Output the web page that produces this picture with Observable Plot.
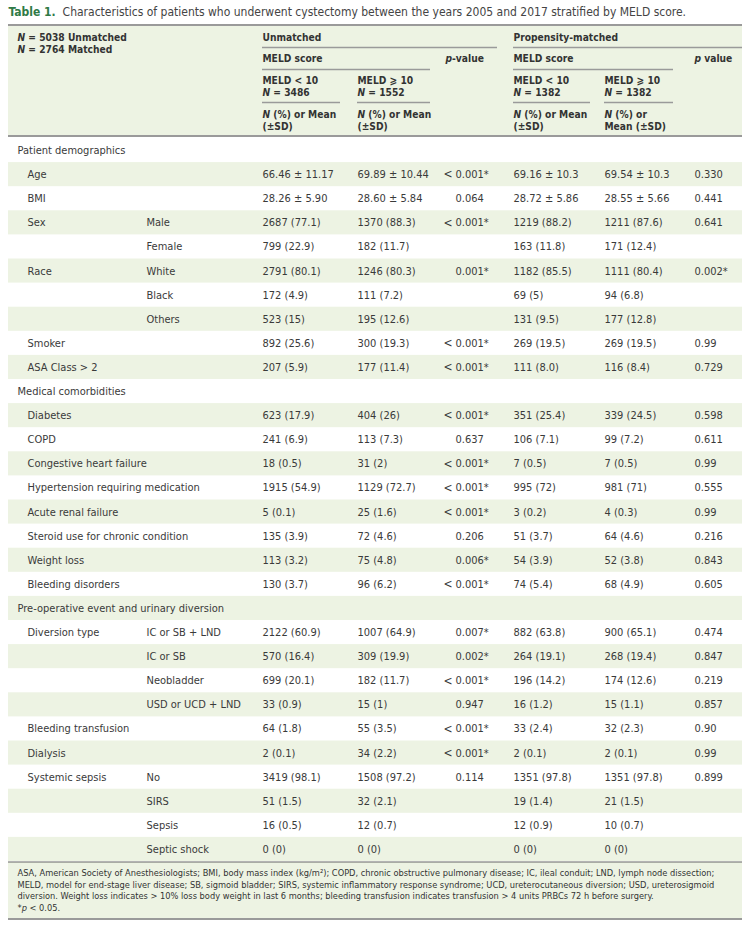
<!DOCTYPE html>
<html><head><meta charset="utf-8">
<script src="https://cdn.jsdelivr.net/npm/d3@7"></script>
<script src="https://cdn.jsdelivr.net/npm/@observablehq/plot@0.6"></script>
<style>
body{margin:0;background:#fff;}
#chart svg{display:block;}
</style></head>
<body><div id="chart"></div>
<script>
// ---------- DATA ----------
const tableTitle = "Table 1.  Characteristics of patients who underwent cystectomy between the years 2005 and 2017 stratified by MELD score.";
const cohortLabels = ["N = 5038 Unmatched", "N = 2764 Matched"];
const groupLabels = ["Unmatched", "Propensity-matched"];
const scoreLabels = ["MELD score", "MELD score"];
const pLabels = ["p-value", "p value"];
const armLabels = ["MELD < 10", "MELD ⩾ 10", "MELD < 10", "MELD ⩾ 10"];
const armNs = ["N = 3486", "N = 1552", "N = 1382", "N = 1382"];
const statLabels1 = ["N (%) or Mean", "N (%) or Mean", "N (%) or Mean", "N (%) or"];
const statLabels2 = ["(±SD)", "(±SD)", "(±SD)", "Mean (±SD)"];

const sectionRows = [0, 10, 19];
const rowLabels = ["Patient demographics","Age","BMI","Sex","","Race","","","Smoker","ASA Class > 2",
  "Medical comorbidities","Diabetes","COPD","Congestive heart failure","Hypertension requiring medication",
  "Acute renal failure","Steroid use for chronic condition","Weight loss","Bleeding disorders",
  "Pre-operative event and urinary diversion","Diversion type","","","","Bleeding transfusion","Dialysis",
  "Systemic sepsis","","",""];
const subLabels = ["","","","Male","Female","White","Black","Others","","",
  "","","","","","","","","",
  "","IC or SB + LND","IC or SB","Neobladder","USD or UCD + LND","","",
  "No","SIRS","Sepsis","Septic shock"];
const unmatchedLow = ["","66.46 ± 11.17","28.26 ± 5.90","2687 (77.1)","799 (22.9)","2791 (80.1)","172 (4.9)","523 (15)","892 (25.6)","207 (5.9)",
  "","623 (17.9)","241 (6.9)","18 (0.5)","1915 (54.9)","5 (0.1)","135 (3.9)","113 (3.2)","130 (3.7)",
  "","2122 (60.9)","570 (16.4)","699 (20.1)","33 (0.9)","64 (1.8)","2 (0.1)","3419 (98.1)","51 (1.5)","16 (0.5)","0 (0)"];
const unmatchedHigh = ["","69.89 ± 10.44","28.60 ± 5.84","1370 (88.3)","182 (11.7)","1246 (80.3)","111 (7.2)","195 (12.6)","300 (19.3)","177 (11.4)",
  "","404 (26)","113 (7.3)","31 (2)","1129 (72.7)","25 (1.6)","72 (4.6)","75 (4.8)","96 (6.2)",
  "","1007 (64.9)","309 (19.9)","182 (11.7)","15 (1)","55 (3.5)","34 (2.2)","1508 (97.2)","32 (2.1)","12 (0.7)","0 (0)"];
const unmatchedP = ["","<0.001*","0.064","<0.001*","","0.001*","","","<0.001*","<0.001*",
  "","<0.001*","0.637","<0.001*","<0.001*","<0.001*","0.206","0.006*","<0.001*",
  "","0.007*","0.002*","<0.001*","0.947","<0.001*","<0.001*","0.114","","",""];
const matchedLow = ["","69.16 ± 10.3","28.72 ± 5.86","1219 (88.2)","163 (11.8)","1182 (85.5)","69 (5)","131 (9.5)","269 (19.5)","111 (8.0)",
  "","351 (25.4)","106 (7.1)","7 (0.5)","995 (72)","3 (0.2)","51 (3.7)","54 (3.9)","74 (5.4)",
  "","882 (63.8)","264 (19.1)","196 (14.2)","16 (1.2)","33 (2.4)","2 (0.1)","1351 (97.8)","19 (1.4)","12 (0.9)","0 (0)"];
const matchedHigh = ["","69.54 ± 10.3","28.55 ± 5.66","1211 (87.6)","171 (12.4)","1111 (80.4)","94 (6.8)","177 (12.8)","269 (19.5)","116 (8.4)",
  "","339 (24.5)","99 (7.2)","7 (0.5)","981 (71)","4 (0.3)","64 (4.6)","52 (3.8)","68 (4.9)",
  "","900 (65.1)","268 (19.4)","174 (12.6)","15 (1.1)","32 (2.3)","2 (0.1)","1351 (97.8)","21 (1.5)","10 (0.7)","0 (0)"];
const matchedP = ["","0.330","0.441","0.641","","0.002*","","","0.99","0.729",
  "","0.598","0.611","0.99","0.555","0.99","0.216","0.843","0.605",
  "","0.474","0.847","0.219","0.857","0.90","0.99","0.899","","",""];
const footnoteLines = [
  "ASA, American Society of Anesthesiologists; BMI, body mass index (kg/m²); COPD, chronic obstructive pulmonary disease; IC, ileal conduit; LND, lymph node dissection;",
  "MELD, model for end-stage liver disease; SB, sigmoid bladder; SIRS, systemic inflammatory response syndrome; UCD, ureterocutaneous diversion; USD, ureterosigmoid",
  "diversion. Weight loss indicates > 10% loss body weight in last 6 months; bleeding transfusion indicates transfusion > 4 units PRBCs 72 h before surgery.",
  "*p < 0.05."
];

// ---------- LAYOUT ----------
const W = 749, H = 950;
const L = 8, R = 742;
const FONT = '"DejaVu Sans Condensed", "Liberation Sans Narrow", "Roboto", sans-serif';
const INK = "#3a3a3a", GREEN_BG = "#edf3e3", TITLE_GREEN = "#2f7a46", RULE = "#9a9a9a";
const bodyTop = 138, bodyBottom = 861;
const nRows = rowLabels.length;
const band = d3.scaleBand().domain(d3.range(nRows)).range([bodyTop, bodyBottom]);
const rowMid = i => band(i) + band.bandwidth() / 2;
const colX = {label: 27, section: 17, sub: 146, u1: 262, u2: 357, up: 455, m1: 513, m2: 604, mp: 694};

const rows = d3.range(nRows).map(i => ({i}));
const stripeRows = rows.filter(d => d.i % 2 === 1);
const cells = [];
const addCol = (arr, col) => arr.forEach((t, i) => { if (t) cells.push({i, col, text: t}); });
rows.forEach(({i}) => {
  if (rowLabels[i]) cells.push({i, col: sectionRows.includes(i) ? "section" : "label", text: rowLabels[i]});
});
addCol(subLabels, "sub");
addCol(unmatchedLow, "u1"); addCol(unmatchedHigh, "u2");
addCol(matchedLow, "m1"); addCol(matchedHigh, "m2");
const pCells = [];
unmatchedP.forEach((t, i) => { if (t) pCells.push({i, col: "up", text: t}); });
matchedP.forEach((t, i) => { if (t) pCells.push({i, col: "mp", text: t}); });

// header entries
const hdr = [];
cohortLabels.forEach((t, k) => hdr.push({x: 17, y: 37 + k * 12, text: t}));
groupLabels.forEach((t, k) => hdr.push({x: [262, 513][k], y: 37, text: t}));
scoreLabels.forEach((t, k) => hdr.push({x: [262, 513][k], y: 58, text: t}));
pLabels.forEach((t, k) => hdr.push({x: [445, 694][k], y: 58, text: t}));
const armX = [262, 357, 513, 604];
armLabels.forEach((t, k) => hdr.push({x: armX[k], y: 80, text: t}));
armNs.forEach((t, k) => hdr.push({x: armX[k], y: 92, text: t}));
statLabels1.forEach((t, k) => hdr.push({x: armX[k], y: 114, text: t}));
statLabels2.forEach((t, k) => hdr.push({x: armX[k], y: 126, text: t}));
const hdrLines = [
  {x1: 262, x2: 497, y: 47}, {x1: 513, x2: 742, y: 47},
  {x1: 262, x2: 430, y: 69}, {x1: 513, x2: 673, y: 69},
  {x1: 262, x2: 340, y: 102}, {x1: 357, x2: 430, y: 102},
  {x1: 513, x2: 590, y: 102}, {x1: 604, x2: 673, y: 102}
];

const chart = Plot.plot({
  width: W, height: H, margin: 0,
  x: {domain: [0, W], range: [0, W], axis: null},
  y: {domain: [0, H], range: [0, H], axis: null},
  style: {fontFamily: FONT, background: "#fff"},
  marks: [
    // backgrounds
    Plot.rect([0], {x1: L, x2: R, y1: 25, y2: 135, fill: GREEN_BG}),
    Plot.rect(stripeRows, {x1: L, x2: R, y1: d => band(d.i), y2: d => band(d.i) + band.bandwidth(), fill: GREEN_BG}),
    Plot.rect([0], {x1: L, x2: R, y1: bodyBottom + 1, y2: 918, fill: GREEN_BG}),
    // rules
    Plot.ruleY([24.5, 135.5], {x1: L, x2: R, stroke: RULE, strokeWidth: 2}),
    Plot.ruleY([bodyBottom + 0.5], {x1: L, x2: R, stroke: "#666", strokeWidth: 1}),
    Plot.ruleY([918.5], {x1: L, x2: R, stroke: RULE, strokeWidth: 2}),
    Plot.ruleY(hdrLines, {y: "y", x1: "x1", x2: "x2", stroke: RULE, strokeWidth: 1.5}),
    // title
    Plot.text([tableTitle], {x: L, y: 12, text: d => d, textAnchor: "start", fontSize: 12, fill: "#444"}),
    // header
    Plot.text(hdr, {x: "x", y: "y", text: "text", textAnchor: "start", fontSize: 10.2, fontWeight: "bold", fill: "#333"}),
    // body
    Plot.text(cells, {x: d => colX[d.col], y: d => rowMid(d.i), text: "text", textAnchor: "start", fontSize: 11, fill: INK}),
    Plot.text(pCells, {x: d => colX[d.col], y: d => rowMid(d.i), text: d => d.text.replace("<", ""), textAnchor: "start", fontSize: 11, fill: INK}),
    Plot.text(pCells.filter(d => d.text.startsWith("<")), {x: d => colX[d.col] - 3, y: d => rowMid(d.i), text: () => "<", textAnchor: "end", fontSize: 12, fill: INK}),
    // footnote
    Plot.text(footnoteLines, {x: 17, y: (d, i) => 873 + i * 11.5, text: d => d, textAnchor: "start", fontSize: 9.2, fill: "#333"})
  ]
});

// typographic details: italic N / p, coloured title label
d3.select(chart).selectAll("text").each(function() {
  const t = this.textContent;
  const el = d3.select(this);
  let parts = null;
  if (t.startsWith("Table 1.")) {
    parts = [{s: "Table 1.", fw: "bold", fill: TITLE_GREEN}, {s: t.slice(8)}];
  } else if (/^N(?=[ (])/.test(t)) {
    parts = [{s: "N", fs: "italic"}, {s: t.slice(1)}];
  } else if (/^p(?=[- ]value)/.test(t)) {
    parts = [{s: "p", fs: "italic"}, {s: t.slice(1)}];
  } else if (t.startsWith("*p ")) {
    parts = [{s: "*"}, {s: "p", fs: "italic"}, {s: t.slice(2)}];
  }
  if (!parts) return;
  el.text(null);
  parts.forEach(p => {
    const ts = el.append("tspan").text(p.s).attr("xml:space", "preserve");
    if (p.fs) ts.attr("font-style", p.fs);
    if (p.fw) ts.attr("font-weight", p.fw);
    if (p.fill) ts.attr("fill", p.fill);
  });
  el.style("white-space", "pre");
});

document.getElementById("chart").append(chart);
</script></body></html>
